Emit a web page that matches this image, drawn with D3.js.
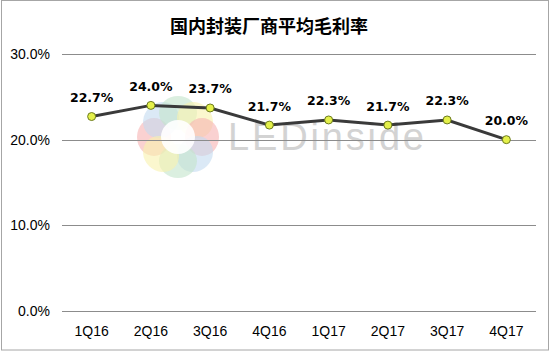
<!DOCTYPE html>
<html>
<head>
<meta charset="utf-8">
<script src="https://cdn.jsdelivr.net/npm/d3@7"></script>
<style>
  body { margin: 0; background: #fff; }
  .axis text { font-family: "Liberation Sans", sans-serif; font-size: 14px; fill: #000; }
</style>
</head>
<body>
<div id="chart"></div>
<script>
// chart data
var quarters = ["1Q16", "2Q16", "3Q16", "4Q16", "1Q17", "2Q17", "3Q17", "4Q17"];
var margins = [22.7, 24.0, 23.7, 21.7, 22.3, 21.7, 22.3, 20.0];
var yTicks = [0, 10, 20, 30];
var title = "国内封装厂商平均毛利率";

var W = 551, H = 352;
var margin = { top: 54, right: 15, bottom: 41, left: 62 };
var width = W - margin.left - margin.right,
    height = H - margin.top - margin.bottom;

var svg = d3.select("#chart").append("svg")
    .attr("width", W)
    .attr("height", H);

// outer frame
svg.append("rect")
    .attr("x", 1.5).attr("y", 0.5)
    .attr("width", W - 4).attr("height", H - 2.5)
    .attr("fill", "#fff")
    .attr("stroke", "#a6a6a6");

svg.append("text")
    .attr("x", 269).attr("y", 33)
    .attr("text-anchor", "middle")
    .attr("font-family", "Noto Sans CJK SC")
    .attr("font-weight", "bold")
    .attr("font-size", 18)
    .text(title);

var g = svg.append("g")
    .attr("transform", "translate(" + margin.left + "," + margin.top + ")");

var x = d3.scaleBand().domain(quarters).range([0, width]);
var y = d3.scaleLinear().domain([0, 30]).range([height, 0]);

// watermark (logo + LEDinside)
var wm = g.append("g").attr("transform", "translate(116,83)");
var petals = ["#f6b3b3", "#c3dbf0", "#c3e5cc", "#f8f2ad", "#f6b3b3", "#c3dbf0", "#c3e5cc", "#f8f2ad"];
petals.forEach(function(c, i) {
    var a = i * 45;
    wm.append("ellipse")
        .attr("cx", 24).attr("cy", 0)
        .attr("rx", 17).attr("ry", 19)
        .attr("transform", "rotate(" + (a + 180) + ")")
        .attr("fill", c)
        .attr("opacity", 0.6);
});
wm.append("circle").attr("r", 17).attr("fill", "#fff").attr("opacity", 0.9);
g.append("text")
    .attr("x", 166).attr("y", 96)
    .attr("font-family", "Liberation Sans")
    .attr("font-size", 38)
    .attr("textLength", 196)
    .attr("fill", "#d3d3d3")
    .text("LEDinside");

// gridlines
g.append("g").selectAll("line")
    .data(yTicks)
    .enter().append("line")
    .attr("x1", 0).attr("x2", width)
    .attr("y1", function(d) { return Math.round(y(d)) + 0.5; })
    .attr("y2", function(d) { return Math.round(y(d)) + 0.5; })
    .attr("stroke", "#8c8c8c")
    .attr("stroke-width", 1);

// axes
var yAxis = d3.axisLeft(y).tickValues(yTicks)
    .tickFormat(function(d) { return d.toFixed(1) + "%"; })
    .tickSize(0).tickPadding(12);
g.append("g").attr("class", "axis").call(yAxis)
    .call(function(s) { s.select(".domain").remove(); });

var xAxis = d3.axisBottom(x).tickSize(0).tickPadding(15);
g.append("g").attr("class", "axis")
    .attr("transform", "translate(0," + height + ")")
    .call(xAxis)
    .call(function(s) { s.select(".domain").remove(); });

// line
var line = d3.line()
    .x(function(d, i) { return x(quarters[i]) + x.bandwidth() / 2; })
    .y(function(d) { return y(d); });

g.append("path")
    .datum(margins)
    .attr("fill", "none")
    .attr("stroke", "#3a3a3a")
    .attr("stroke-width", 3)
    .attr("d", line);

g.selectAll(".dot")
    .data(margins)
    .enter().append("circle")
    .attr("class", "dot")
    .attr("cx", function(d, i) { return x(quarters[i]) + x.bandwidth() / 2; })
    .attr("cy", function(d) { return y(d); })
    .attr("r", 4)
    .attr("fill", "#e4f04a")
    .attr("stroke", "#6b7a1e")
    .attr("stroke-width", 1);

g.selectAll(".lbl")
    .data(margins)
    .enter().append("text")
    .attr("class", "lbl")
    .attr("x", function(d, i) { return x(quarters[i]) + x.bandwidth() / 2; })
    .attr("y", function(d) { return y(d) - 14.5; })
    .attr("text-anchor", "middle")
    .attr("font-family", "DejaVu Sans")
    .attr("font-weight", "bold")
    .attr("font-size", 12.5)
    .text(function(d) { return d.toFixed(1) + "%"; });
</script>
</body>
</html>
